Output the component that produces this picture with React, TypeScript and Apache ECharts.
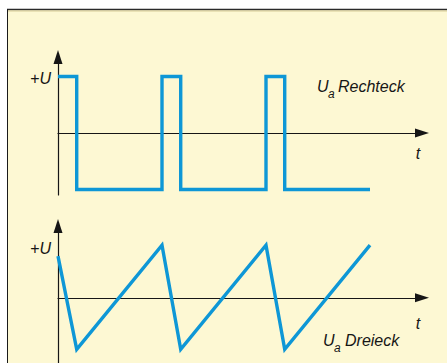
import React, { useEffect, useRef } from "react";
import * as echarts from "echarts";

// Square wave (Rechteck): time in periods, voltage in units of U
const squareT = [0, 0.18, 0.18, 1, 1, 1.18, 1.18, 2, 2, 2.18, 2.18, 3];
const squareU = [1, 1, -1, -1, 1, 1, -1, -1, 1, 1, -1, -1];

// Triangle wave (Dreieck)
const triT = [0, 0.18, 1, 1.18, 2, 2.18, 3];
const triU = [0.79, -0.98, 1, -0.98, 1, -0.98, 1];

const labelPlus = "+U";
const labelT = "t";
const labelRect = "Rechteck";
const labelTri = "Dreieck";

const BLUE = "#0e97d6";
const INK = "#161616";
const FONT = "'Liberation Sans Narrow', 'Liberation Sans', Arial, sans-serif";

export default function App() {
  const ref = useRef<HTMLDivElement>(null);
  useEffect(() => {
    if (!ref.current) return;
    const chart = echarts.init(ref.current, undefined, { renderer: "svg" });
    const axisLine = {
      show: true,
      onZero: true,
      symbol: ["none", "triangle"],
      symbolSize: [9, 14],
      lineStyle: { color: INK, width: 1.2 },
    };
    const hidden = {
      axisTick: { show: false },
      axisLabel: { show: false },
      splitLine: { show: false },
    };
    const txt = (x: number, y: number, text: string, size: number, align = "left") => ({
      type: "text",
      x,
      y,
      z: 10,
      style: {
        text,
        fill: INK,
        font: `italic ${size}px ${FONT}`,
        textAlign: align,
        textVerticalAlign: "middle",
      },
    });
    chart.setOption({
      animation: false,
      backgroundColor: "#fdf8d3",
      grid: [
        { left: 58, top: 57, width: 364, height: 138 },
        { left: 58, top: 226, width: 364, height: 147 },
      ],
      xAxis: [
        { type: "value", gridIndex: 0, min: 0, max: 3.5, axisLine, ...hidden },
        { type: "value", gridIndex: 1, min: 0, max: 3.5, axisLine, ...hidden },
      ],
      yAxis: [
        { type: "value", gridIndex: 0, min: -1.097, max: 1.345, axisLine, ...hidden },
        { type: "value", gridIndex: 1, min: -1.239, max: 1.363, axisLine, ...hidden },
      ],
      series: [
        {
          type: "line",
          xAxisIndex: 0,
          yAxisIndex: 0,
          data: squareT.map((t, i) => [t, squareU[i]]),
          symbol: "none",
          lineStyle: { color: BLUE, width: 3.4, join: "miter", cap: "butt" },
        },
        {
          type: "line",
          xAxisIndex: 1,
          yAxisIndex: 1,
          data: triT.map((t, i) => [t, triU[i]]),
          symbol: "none",
          lineStyle: { color: BLUE, width: 3.4, join: "miter", cap: "butt" },
        },
      ],
      graphic: [
        { type: "rect", shape: { x: 0, y: 0, width: 447, height: 9 }, style: { fill: "#ffffff" }, z: 20 },
        { type: "rect", shape: { x: 0, y: 0, width: 7, height: 363 }, style: { fill: "#ffffff" }, z: 20 },
        { type: "line", shape: { x1: 7, y1: 9.5, x2: 447, y2: 9.5 }, style: { stroke: "#2a2a2a", lineWidth: 1.5 }, z: 21 },
        { type: "line", shape: { x1: 8, y1: 11, x2: 447, y2: 11 }, style: { stroke: "#d8cc98", lineWidth: 1 }, z: 21 },
        { type: "line", shape: { x1: 7.5, y1: 9, x2: 7.5, y2: 363 }, style: { stroke: "#1a1a1a", lineWidth: 1 }, z: 21 },
        txt(51, 78, labelPlus, 16, "right"),
        txt(51, 248, labelPlus, 16, "right"),
        txt(418, 153, labelT, 16, "center"),
        txt(418, 323, labelT, 16, "center"),
        txt(317, 86, "U", 16),
        txt(328, 94, "a", 12),
        txt(338, 86, labelRect, 16),
        txt(323, 340, "U", 16),
        txt(334, 348, "a", 12),
        txt(345, 340, labelTri, 16),
      ],
    });
    return () => chart.dispose();
  }, []);
  return (
    <div
      ref={ref}
      style={{ position: "fixed", left: 0, top: 0, width: 447, height: 363 }}
    />
  );
}
